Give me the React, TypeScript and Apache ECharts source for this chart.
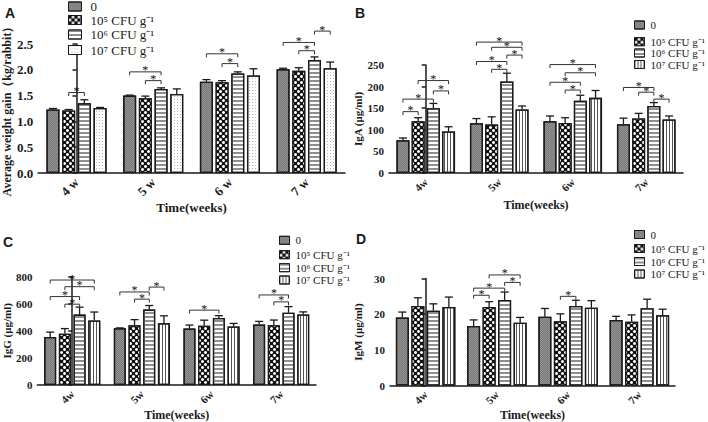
import React, { useEffect, useRef } from 'react';
import * as echarts from 'echarts';

// ---------- data ----------
const weeksA = ['4 w', '5 w', '6 w', '7 w'];
const weeksBCD = ['4w', '5w', '6w', '7w'];
const groupNames = ['0', '10⁵ CFU g⁻¹', '10⁶ CFU g⁻¹', '10⁷ CFU g⁻¹'];

// A: average weight gain (kg/rabbit), rows = group, cols = week
const weightMean = [
  [1.23, 1.50, 1.77, 2.01],
  [1.21, 1.45, 1.76, 1.98],
  [1.35, 1.63, 1.93, 2.19],
  [1.26, 1.53, 1.89, 2.03],
];
const weightErr = [
  [0.02, 0.01, 0.04, 0.02],
  [0.02, 0.04, 0.03, 0.06],
  [0.07, 0.02, 0.03, 0.06],
  [0.01, 0.10, 0.13, 0.12],
];
// significance brackets: [week, groupFrom, groupTo, level]
const weightSig = [
  [0, 1, 2, 1.56], [1, 0, 2, 1.96], [1, 1, 2, 1.79], [2, 0, 2, 2.31], [2, 1, 2, 2.12],
  [3, 0, 2, 2.53], [3, 1, 2, 2.37], [3, 2, 3, 2.75],
];

// B: IgA (μg/ml)
const igaMean = [
  [76, 115, 120, 113],
  [120, 112, 116, 126],
  [150, 212, 167, 155],
  [96, 147, 174, 124],
];
const igaErr = [
  [5, 11, 12, 14],
  [8, 18, 12, 12],
  [11, 19, 13, 8],
  [11, 8, 17, 8],
];
const igaSig = [
  [0, 0, 1, 142], [0, 0, 2, 171], [0, 2, 3, 190], [0, 1, 3, 214],
  [1, 1, 2, 240], [1, 0, 2, 258], [1, 2, 3, 273], [1, 1, 3, 291], [1, 0, 3, 303],
  [2, 1, 2, 192], [2, 0, 2, 210], [2, 1, 3, 232], [2, 0, 3, 251],
  [3, 1, 2, 187], [3, 0, 2, 198], [3, 2, 3, 171],
];

// C: IgG (μg/ml)
const iggMean = [
  [354, 418, 416, 446],
  [378, 440, 437, 441],
  [519, 556, 494, 533],
  [476, 455, 432, 520],
];
const iggErr = [
  [36, 3, 26, 23],
  [38, 42, 41, 38],
  [55, 30, 17, 45],
  [62, 55, 22, 19],
];
const iggSig = [
  [0, 1, 2, 596], [0, 0, 2, 652], [0, 1, 3, 725], [0, 0, 3, 774],
  [1, 1, 2, 633], [1, 0, 2, 686], [1, 2, 3, 722],
  [2, 0, 2, 552],
  [3, 1, 2, 613], [3, 0, 2, 664],
];

// D: IgM (μg/ml)
const igmMean = [
  [19.1, 16.7, 19.3, 18.4],
  [22.3, 22.0, 18.0, 17.9],
  [21.0, 24.0, 22.3, 21.7],
  [22.0, 17.6, 21.8, 19.7],
];
const igmErr = [
  [1.5, 1.7, 2.3, 1.0],
  [2.3, 1.5, 2.1, 1.9],
  [1.9, 2.2, 1.6, 2.5],
  [2.8, 1.5, 2.0, 1.7],
];
const igmSig = [
  [1, 0, 1, 25.3], [1, 0, 2, 27.3], [1, 2, 3, 28.9], [1, 1, 3, 31.0],
  [2, 1, 2, 25.0],
];

// ---------- styles ----------
const SERIF = "'Liberation Serif', 'Times New Roman', serif";
const SANS = "'Liberation Sans', Arial, sans-serif";
const INK = '#1a1a1a';

const patterns: Record<string, any> = {
  gray: {
    color: '#959595',
    decal: { symbol: 'rect', symbolSize: 1, color: 'rgba(60,60,60,0.35)', dashArrayX: [[1, 1], [0, 1, 1, 0]], dashArrayY: [1, 0] },
  },
  checker: {
    color: '#111111',
    decal: { symbol: 'circle', symbolSize: 1, color: '#ffffff', dashArrayX: [[3, 3], [0, 3, 3, 0]], dashArrayY: [3, 0] },
  },
  hstripe: {
    color: '#ffffff',
    decal: { symbol: 'rect', symbolSize: 1, color: '#8f8f8f', dashArrayX: [1, 0], dashArrayY: [2, 2] },
  },
  vstripe: {
    color: '#ffffff',
    decal: { symbol: 'rect', symbolSize: 1, color: '#555555', dashArrayX: [1, 2], dashArrayY: [1, 0] },
  },
  dots: {
    color: '#ffffff',
    decal: { symbol: 'rect', symbolSize: 1, color: '#b5b5b5', dashArrayX: [1, 2], dashArrayY: [1, 2] },
  },
};

const panels = [
  {
    key: 'A', cats: weeksA, mean: weightMean, err: weightErr, sig: weightSig,
    yName: 'Average weight gain（kg/rabbit）', max: 2.5, interval: 0.5, decimals: 1,
    grid: { left: 38, top: 44, width: 307, height: 129 }, bw: 13, gap: 2.7,
    pats: ['gray', 'checker', 'hstripe', 'dots'],
    tickFont: 13, xFont: 13, xNameFont: 13, yNameFont: 12, xNameGap: 27, yNameGap: 23,
    legend: { x: 68, w: 13, h: 9, textX: 90, ys: [6.5, 20, 34.5, 50], font: 13 },
    letter: { x: 5, y: 6 },
  },
  {
    key: 'B', cats: weeksBCD, mean: igaMean, err: igaErr, sig: igaSig,
    yName: 'IgA (μg/ml)', max: 250, interval: 50, decimals: 0,
    grid: { left: 389, top: 65, width: 294, height: 108 }, bw: 13, gap: 2.2,
    pats: ['gray', 'checker', 'hstripe', 'vstripe'],
    tickFont: 11, xFont: 11, xNameFont: 12, yNameFont: 11, xNameGap: 26, yNameGap: 24,
    legend: { x: 634, w: 10, h: 8, textX: 650, ys: [25, 41.7, 53, 64.5], font: 11 },
    letter: { x: 355, y: 6 },
  },
  {
    key: 'C', cats: weeksBCD, mean: iggMean, err: iggErr, sig: iggSig,
    yName: 'IgG (μg/ml)', max: 800, interval: 200, decimals: 0,
    grid: { left: 34, top: 276.5, width: 282, height: 110 }, bw: 12, gap: 2.7,
    pats: ['gray', 'checker', 'hstripe', 'vstripe'],
    tickFont: 11, xFont: 11, xNameFont: 12, yNameFont: 11, xNameGap: 24, yNameGap: 22,
    legend: { x: 279, w: 10, h: 8, textX: 295, ys: [240.3, 254.7, 267.7, 280], font: 11 },
    letter: { x: 3, y: 235 },
  },
  {
    key: 'D', cats: weeksBCD, mean: igmMean, err: igmErr, sig: igmSig,
    yName: 'IgM (μg/ml)', max: 30, interval: 10, decimals: 0,
    grid: { left: 390, top: 278.5, width: 285, height: 108 }, bw: 13, gap: 2.5,
    pats: ['gray', 'checker', 'hstripe', 'vstripe'],
    tickFont: 11, xFont: 11, xNameFont: 12, yNameFont: 11, xNameGap: 22.5, yNameGap: 27,
    legend: { x: 634, w: 10, h: 8, textX: 650, ys: [234.5, 248.5, 261.5, 274], font: 11 },
    letter: { x: 356, y: 232 },
  },
];

function offsetOf(g: number, bw: number, gap: number) {
  const total = 4 * bw + 3 * gap;
  return -total / 2 + bw / 2 + g * (bw + gap);
}

function buildOption() {
  const grid: any[] = [];
  const xAxis: any[] = [];
  const xAxisHidden: any[] = [];
  const yAxis: any[] = [];
  const series: any[] = [];
  const legend: any[] = [];
  const graphic: any[] = [];
  const nP = panels.length;

  panels.forEach((p, pi) => {
    grid.push({ ...p.grid, containLabel: false });
    xAxis.push({
      type: 'category', gridIndex: pi, data: p.cats,
      axisLine: { lineStyle: { color: INK, width: 1.5 } },
      axisTick: { alignWithLabel: true, length: 4, lineStyle: { color: INK, width: 1.5 } },
      axisLabel: { rotate: 45, fontFamily: SERIF, fontWeight: 'bold', fontSize: p.xFont, color: INK, margin: 7 },
      name: 'Time(weeks)', nameLocation: 'middle', nameGap: p.xNameGap,
      nameTextStyle: { fontFamily: SERIF, fontWeight: 'bold', fontSize: p.xNameFont, color: INK },
    });
    // hidden numeric twin of the category axis (category i sits at value i)
    xAxisHidden.push({ type: 'value', gridIndex: pi, min: -0.5, max: p.cats.length - 0.5, show: false });
    yAxis.push({
      type: 'value', gridIndex: pi, min: 0, max: p.max, interval: p.interval,
      axisLine: { show: true, lineStyle: { color: INK, width: 1.5 } },
      axisTick: { show: true, length: 4, lineStyle: { color: INK, width: 1.5 } },
      splitLine: { show: false },
      axisLabel: {
        fontFamily: SERIF, fontWeight: 'bold', fontSize: p.tickFont, color: INK, margin: 5,
        formatter: (v: number) => v.toFixed(p.decimals),
      },
      name: p.yName, nameLocation: 'middle', nameRotate: 90, nameGap: p.yNameGap,
      nameTextStyle: { fontFamily: SERIF, fontWeight: 'bold', fontSize: p.yNameFont, color: INK },
    });

    const barGapPct = (p.gap / p.bw) * 100 + '%';
    p.pats.forEach((patKey, g) => {
      const pat = patterns[patKey];
      series.push({
        type: 'bar', name: `${p.key}|${groupNames[g]}`, xAxisIndex: pi, yAxisIndex: pi,
        data: p.mean[g], barWidth: p.bw, barGap: barGapPct, silent: true,
        emphasis: { disabled: true },
        itemStyle: { color: pat.color, decal: pat.decal, borderColor: INK, borderWidth: 1.3 },
      });
      legend.push({
        data: [`${p.key}|${groupNames[g]}`], left: p.legend.x,
        top: p.legend.ys[g] - p.legend.font / 2, orient: 'vertical', padding: 0,
        itemWidth: p.legend.w, itemHeight: p.legend.h, itemGap: 0, icon: 'rect', selectedMode: false,
        itemStyle: { borderColor: INK, borderWidth: 1 },
        formatter: (n: string) => n.split('|')[1],
        textStyle: {
          fontFamily: SERIF, fontSize: p.legend.font, color: INK, lineHeight: p.legend.font,
          padding: [0, 0, 0, Math.max(0, p.legend.textX - (p.legend.x + p.legend.w + 5))],
        },
      });
    });

    // error bars
    const errData: number[][] = [];
    for (let g = 0; g < 4; g++) for (let c = 0; c < 4; c++) errData.push([c, p.mean[g][c], p.err[g][c], g]);
    series.push({
      type: 'custom', xAxisIndex: pi, yAxisIndex: pi, data: errData, encode: { x: 0, y: 1 },
      silent: true, z: 3, clip: false,
      renderItem: (params: any, api: any) => {
        const c = api.value(0), m = api.value(1), e = api.value(2), g = api.value(3);
        const base = api.coord([c, m]);
        const top = api.coord([c, m + e]);
        const x = base[0] + offsetOf(g, p.bw, p.gap);
        const cap = 4;
        return {
          type: 'group', children: [
            { type: 'line', shape: { x1: x, y1: base[1], x2: x, y2: top[1] }, style: { stroke: INK, lineWidth: 1.3 } },
            { type: 'line', shape: { x1: x - cap, y1: top[1], x2: x + cap, y2: top[1] }, style: { stroke: INK, lineWidth: 1.3 } },
          ],
        };
      },
    });

    // significance brackets (lines)
    series.push({
      type: 'custom', xAxisIndex: pi, yAxisIndex: pi, data: p.sig, encode: { x: 0, y: 3 },
      silent: true, z: 4, clip: false,
      renderItem: (params: any, api: any) => {
        const c = api.value(0), i = api.value(1), j = api.value(2), lvl = api.value(3);
        const pt = api.coord([c, lvl]);
        const x1 = pt[0] + offsetOf(i, p.bw, p.gap);
        const x2 = pt[0] + offsetOf(j, p.bw, p.gap);
        const y = pt[1];
        return {
          type: 'polyline', shape: { points: [[x1, y + 3.5], [x1, y], [x2, y], [x2, y + 3.5]] },
          style: { stroke: '#333333', lineWidth: 1, fill: 'none' },
        };
      },
    });

    // significance stars, placed on the numeric twin axis at the bracket's middle
    const band = p.grid.width / p.cats.length;
    const starData = p.sig.map(([c, i, j, lvl]) => [
      c + (offsetOf(i, p.bw, p.gap) + offsetOf(j, p.bw, p.gap)) / 2 / band,
      lvl,
    ]);
    series.push({
      type: 'scatter', xAxisIndex: nP + pi, yAxisIndex: pi, data: starData,
      symbol: 'circle', symbolSize: 1, silent: true, z: 5, clip: false,
      itemStyle: { color: 'rgba(0,0,0,0)' },
      emphasis: { disabled: true },
      label: {
        show: true, formatter: '*', position: 'inside', offset: [0, -1.5],
        color: '#111111', fontFamily: SERIF, fontSize: 12, opacity: 1,
      },
    });

    graphic.push({
      type: 'text', x: p.letter.x, y: p.letter.y,
      style: { text: p.key, fontFamily: SANS, fontWeight: 'bold', fontSize: 14, fill: INK, verticalAlign: 'top' },
    });
  });

  return {
    animation: false, backgroundColor: '#ffffff', grid,
    xAxis: [...xAxis, ...xAxisHidden], yAxis, series, legend, graphic,
  };
}

export default function App() {
  const ref = useRef<HTMLDivElement>(null);
  useEffect(() => {
    if (!ref.current) return;
    const chart = echarts.init(ref.current, undefined, { renderer: 'svg' });
    chart.setOption(buildOption() as any);
    return () => chart.dispose();
  }, []);
  return (
    <div
      ref={ref}
      style={{ position: 'fixed', left: 0, top: 0, width: 708, height: 422, background: '#fff' }}
    />
  );
}
